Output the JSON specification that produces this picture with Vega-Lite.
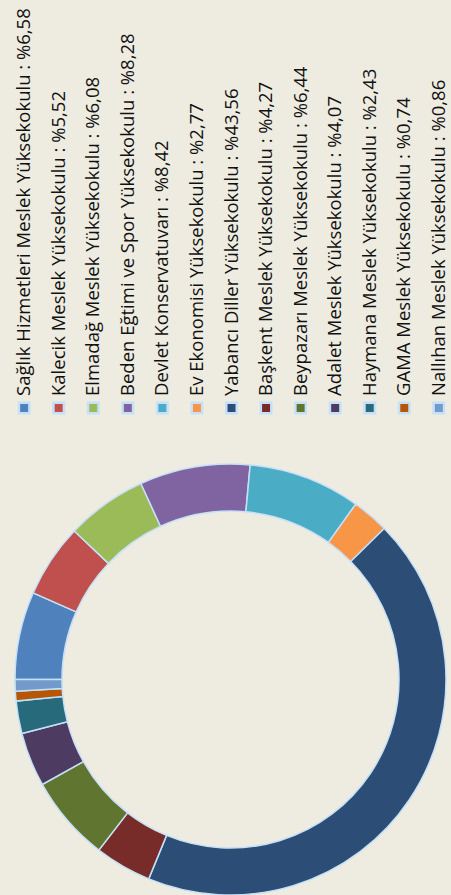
{
  "$schema": "https://vega.github.io/schema/vega-lite/v6.json",
  "background": "#EEECE1",
  "padding": 0,
  "spacing": 0,
  "config": {"view": {"stroke": null}, "concat": {"spacing": 0}},
  "data": {"values": [
    {"i": 1, "name": "Sağlık Hizmetleri Meslek Yüksekokulu", "pct": 6.58, "label": "Sağlık Hizmetleri Meslek Yüksekokulu : %6,58"},
    {"i": 2, "name": "Kalecik Meslek Yüksekokulu", "pct": 5.52, "label": "Kalecik Meslek Yüksekokulu : %5,52"},
    {"i": 3, "name": "Elmadağ Meslek Yüksekokulu", "pct": 6.08, "label": "Elmadağ Meslek Yüksekokulu : %6,08"},
    {"i": 4, "name": "Beden Eğtimi ve Spor Yüksekokulu", "pct": 8.28, "label": "Beden Eğtimi ve Spor Yüksekokulu : %8,28"},
    {"i": 5, "name": "Devlet Konservatuvarı", "pct": 8.42, "label": "Devlet Konservatuvarı : %8,42"},
    {"i": 6, "name": "Ev Ekonomisi Yüksekokulu", "pct": 2.77, "label": "Ev Ekonomisi Yüksekokulu : %2,77"},
    {"i": 7, "name": "Yabancı Diller Yüksekokulu", "pct": 43.56, "label": "Yabancı Diller Yüksekokulu : %43,56"},
    {"i": 8, "name": "Başkent Meslek Yüksekokulu", "pct": 4.27, "label": "Başkent Meslek Yüksekokulu : %4,27"},
    {"i": 9, "name": "Beypazarı Meslek Yüksekokulu", "pct": 6.44, "label": "Beypazarı Meslek Yüksekokulu : %6,44"},
    {"i": 10, "name": "Adalet Meslek Yüksekokulu", "pct": 4.07, "label": "Adalet Meslek Yüksekokulu : %4,07"},
    {"i": 11, "name": "Haymana Meslek Yüksekokulu", "pct": 2.43, "label": "Haymana Meslek Yüksekokulu : %2,43"},
    {"i": 12, "name": "GAMA Meslek Yüksekokulu", "pct": 0.74, "label": "GAMA Meslek Yüksekokulu : %0,74"},
    {"i": 13, "name": "Nallıhan Meslek Yüksekokulu", "pct": 0.86, "label": "Nallıhan Meslek Yüksekokulu : %0,86"}
  ]},
  "vconcat": [
    {
      "width": 463,
      "height": 396,
      "mark": {"type": "text", "angle": 270, "align": "left", "baseline": "middle", "font": "Open Sans", "fontSize": 18.5, "color": "#111111"},
      "encoding": {
        "x": {"field": "name", "type": "nominal", "sort": null, "scale": {"type": "point", "padding": 0.6985}, "axis": null},
        "y": {"datum": 0, "type": "quantitative", "scale": {"domain": [0, 1]}, "axis": null},
        "text": {"field": "label"}
      }
    },
    {
      "width": 463,
      "height": 22,
      "mark": {"type": "point", "shape": "square", "filled": true, "size": 110, "stroke": "#C6E0F7", "strokeWidth": 2.5, "opacity": 1},
      "encoding": {
        "x": {"field": "name", "type": "nominal", "sort": null, "scale": {"type": "point", "padding": 0.6985}, "axis": null},
        "fill": {"field": "name", "type": "nominal", "scale": {"domain": ["Sağlık Hizmetleri Meslek Yüksekokulu", "Kalecik Meslek Yüksekokulu", "Elmadağ Meslek Yüksekokulu", "Beden Eğtimi ve Spor Yüksekokulu", "Devlet Konservatuvarı", "Ev Ekonomisi Yüksekokulu", "Yabancı Diller Yüksekokulu", "Başkent Meslek Yüksekokulu", "Beypazarı Meslek Yüksekokulu", "Adalet Meslek Yüksekokulu", "Haymana Meslek Yüksekokulu", "GAMA Meslek Yüksekokulu", "Nallıhan Meslek Yüksekokulu"], "range": ["#4F81BD", "#C0504D", "#9BBB59", "#8064A2", "#4BACC6", "#F79646", "#2C4D75", "#772C2A", "#5F7530", "#4D3B62", "#276A7C", "#B65708", "#729ACA"]}, "legend": null}
      }
    },
    {
      "width": 461,
      "height": 521,
      "mark": {"type": "arc", "outerRadius": 215.5, "innerRadius": 168.5, "stroke": "#C6E0F7", "strokeWidth": 1.5},
      "encoding": {
        "theta": {"field": "pct", "type": "quantitative", "stack": true, "scale": {"range": [-1.5708, 4.7124]}},
        "order": {"field": "i", "type": "quantitative"},
        "color": {"field": "name", "type": "nominal", "scale": {"domain": ["Sağlık Hizmetleri Meslek Yüksekokulu", "Kalecik Meslek Yüksekokulu", "Elmadağ Meslek Yüksekokulu", "Beden Eğtimi ve Spor Yüksekokulu", "Devlet Konservatuvarı", "Ev Ekonomisi Yüksekokulu", "Yabancı Diller Yüksekokulu", "Başkent Meslek Yüksekokulu", "Beypazarı Meslek Yüksekokulu", "Adalet Meslek Yüksekokulu", "Haymana Meslek Yüksekokulu", "GAMA Meslek Yüksekokulu", "Nallıhan Meslek Yüksekokulu"], "range": ["#4F81BD", "#C0504D", "#9BBB59", "#8064A2", "#4BACC6", "#F79646", "#2C4D75", "#772C2A", "#5F7530", "#4D3B62", "#276A7C", "#B65708", "#729ACA"]}, "legend": null}
      }
    }
  ],
  "resolve": {"scale": {"color": "independent", "fill": "independent", "x": "independent", "y": "independent"}}
}
